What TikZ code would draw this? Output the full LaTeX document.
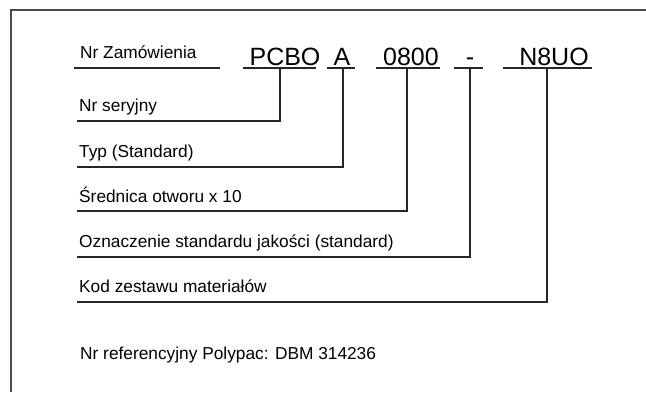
\documentclass[tikz,border=0pt]{standalone}
\usepackage{fontspec}
\setmainfont{Liberation Sans}
\begin{document}
\begin{tikzpicture}[x=1pt, y=-1pt,
    lab/.style={anchor=base west, inner sep=0pt, font=\fontsize{17.3}{20}\selectfont},
    code/.style={anchor=base, inner sep=0pt, font=\fontsize{25}{30}\selectfont},
    ln/.style={line width=1.1pt, draw=black!85}]
    \useasboundingbox (0,0) rectangle (646,392);
    \draw[line width=1.6pt, black!70] (11,392) |- (646,10); % frame, cut at right and bottom
    % order code
    \node[lab] (zam) at (80,58) {Nr Zamówienia};
    \node[code] (pcbo) at (285,65) {PCBO}; \node[code] (a) at (342,65) {A};
    \node[code] (num) at (411,65) {0800}; \node[code] (dash) at (470,65) {-};
    \node[code] (mat) at (554,65) {N8UO};
    \draw[ln] (74,68) -- (220,68); \draw[ln] (243,68) -- (316,68); \draw[ln] (327,68) -- (355,68);
    \draw[ln] (376,68) -- (440,68); \draw[ln] (454,68) -- (483,68); \draw[ln] (503,68) -- (592,68);
    \coordinate (pcbo-d) at (280,68); \coordinate (a-d) at (343,68); \coordinate (num-d) at (407,68);
    \coordinate (dash-d) at (470,68); \coordinate (mat-d) at (547,68);
    % meanings
    \node[lab] (ser) at (79,111) {Nr seryjny};
    \node[lab] (typ) at (79,157) {Typ (Standard)};
    \node[lab] (sr) at (79,202) {Średnica otworu x 10};
    \node[lab] (jak) at (79,247) {Oznaczenie standardu jakości (standard)};
    \node[lab] (kod) at (79,292) {Kod zestawu materiałów};
    \coordinate (ser-u) at (77,121); \coordinate (typ-u) at (77,167); \coordinate (sr-u) at (77,211);
    \coordinate (jak-u) at (77,257); \coordinate (kod-u) at (77,302);
    \draw[ln] (ser-u) -| (pcbo-d); \draw[ln] (typ-u) -| (a-d); \draw[ln] (sr-u) -| (num-d);
    \draw[ln] (jak-u) -| (dash-d); \draw[ln] (kod-u) -| (mat-d);
    \node[lab] (ref) at (80,359) {Nr referencyjny Polypac: DBM 314236};
\end{tikzpicture}
\end{document}
